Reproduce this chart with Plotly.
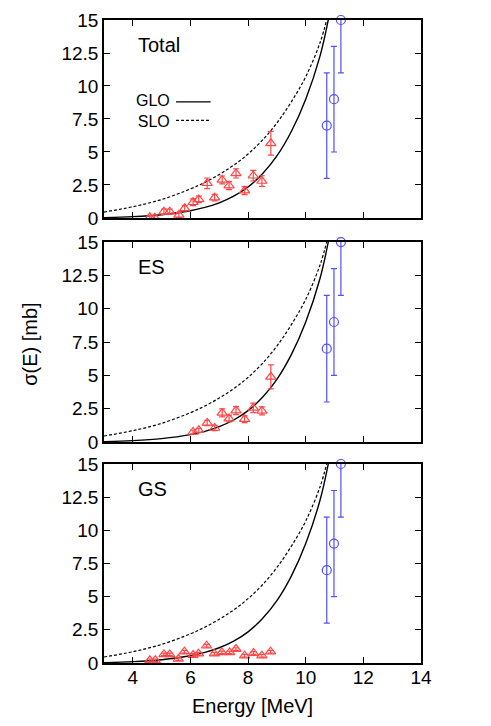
import plotly.graph_objects as go
from plotly.subplots import make_subplots

# model curves (E in MeV, sigma in mb)
curve_e = [3.0, 4.0, 5.0, 6.0, 6.5, 7.0, 7.5, 8.0, 8.5, 9.0, 9.5, 10.0, 10.5, 10.8]
glo = [0.03, 0.1, 0.25, 0.55, 0.8, 1.15, 1.65, 2.35, 3.35, 4.7, 6.55, 9.0, 12.3, 15.2]
slo_e = [3.0, 4.0, 5.0, 6.0, 6.5, 7.0, 7.5, 8.0, 8.5, 9.0, 9.5, 10.0, 10.5, 10.75]
slo = [0.45, 0.85, 1.4, 2.2, 2.7, 3.3, 4.0, 4.85, 5.9, 7.2, 8.8, 10.7, 13.3, 15.2]

# blue data (same in all panels)
blue_e = [10.73, 10.98, 11.22]
blue_s = [7, 9, 15]
blue_err = [4, 4, 4]

# red data
tot_e = [4.59, 4.76, 5.08, 5.28, 5.6, 5.8, 6.09, 6.29, 6.58, 6.84, 7.1, 7.34, 7.58, 7.88, 8.18, 8.48, 8.79]
tot_s = [0.05, 0.02, 0.48, 0.48, 0.23, 0.73, 1.19, 1.41, 2.63, 1.54, 2.88, 2.45, 3.38, 2.07, 3.2, 2.8, 5.66]
tot_err = [0.15, 0.15, 0.2, 0.2, 0.2, 0.2, 0.25, 0.25, 0.4, 0.25, 0.3, 0.3, 0.35, 0.3, 0.4, 0.4, 0.9]

es_e = [6.09, 6.29, 6.58, 6.84, 7.1, 7.34, 7.58, 7.88, 8.18, 8.48, 8.79]
es_s = [0.75, 0.88, 1.43, 1.05, 2.18, 1.76, 2.36, 1.71, 2.56, 2.33, 4.89]
es_err = [0.15, 0.15, 0.2, 0.2, 0.3, 0.25, 0.3, 0.25, 0.35, 0.3, 0.9]

gs_e = [4.59, 4.78, 5.08, 5.28, 5.58, 5.79, 6.09, 6.28, 6.56, 6.83, 7.09, 7.36, 7.58, 7.88, 8.19, 8.48, 8.78]
gs_s = [0.2, 0.2, 0.65, 0.65, 0.3, 0.85, 0.6, 0.7, 1.3, 0.7, 0.8, 0.8, 1.05, 0.55, 0.75, 0.55, 0.85]
gs_err = [0.1] * len(gs_e)

panels = [("Total", tot_e, tot_s, tot_err), ("ES", es_e, es_s, es_err), ("GS", gs_e, gs_s, gs_err)]

red = "rgb(255,70,70)"
blue = "rgb(80,80,255)"
font = "Liberation Sans, Arial, sans-serif"

fig = make_subplots(rows=3, cols=1, shared_xaxes=True)

for i, (name, ex, ey, eerr) in enumerate(panels):
    r = i + 1
    fig.add_trace(go.Scatter(x=slo_e, y=slo, mode="lines",
                             line=dict(color="black", width=1.2, dash="3px,2px", shape="spline"),
                             showlegend=False), row=r, col=1)
    fig.add_trace(go.Scatter(x=curve_e, y=glo, mode="lines", line=dict(color="black", width=1.4, shape="spline"),
                             showlegend=False), row=r, col=1)
    fig.add_trace(go.Scatter(x=ex, y=ey, mode="markers",
                             marker=dict(symbol="triangle-up-open", size=9, color=red, line=dict(width=1.2)),
                             error_y=dict(type="data", array=eerr, color=red, thickness=1.2, width=3),
                             showlegend=False), row=r, col=1)
    fig.add_trace(go.Scatter(x=blue_e, y=blue_s, mode="markers",
                             marker=dict(symbol="circle-open", size=9, color=blue, line=dict(width=1.2)),
                             error_y=dict(type="data", array=blue_err, color=blue, thickness=1.2, width=3),
                             cliponaxis=False, showlegend=False), row=r, col=1)
    fig.add_annotation(x=4.1, y=13.1, text=name, showarrow=False, xanchor="left", yanchor="middle",
                       font=dict(size=20, color="black", family=font), row=r, col=1)

domains = [[0.6921, 1.0], [0.3437, 0.6547], [0.0, 0.3095]]
for i in range(3):
    r = i + 1
    fig.update_yaxes(range=[0, 15], tickvals=[0, 2.5, 5, 7.5, 10, 12.5, 15],
                     ticktext=["0", "2.5", "5", "7.5", "10", "12.5", "15"],
                     domain=domains[i], row=r, col=1)
    fig.update_xaxes(range=[3, 14], dtick=2, tick0=4, row=r, col=1)

fig.update_xaxes(showline=True, linecolor="black", linewidth=1.5, mirror="ticks", ticks="inside",
                 ticklen=6, tickcolor="black", showgrid=False, zeroline=False, ticklabelstandoff=-4,
                 automargin=False, tickfont=dict(size=19, color="black", family=font))
fig.update_yaxes(showline=True, linecolor="black", linewidth=1.5, mirror="ticks", ticks="inside",
                 ticklen=6, tickcolor="black", showgrid=False, zeroline=False,
                 automargin=False, tickfont=dict(size=19, color="black", family=font))

# legend in top panel, gnuplot style: text then sample
fig.add_annotation(x=5.35, y=8.1, text="GLO<br>SLO", showarrow=False, xanchor="right", yanchor="middle",
                   align="right", font=dict(size=16, color="black", family=font), row=1, col=1)
fig.add_shape(type="line", x0=5.5, x1=6.7, y0=8.8, y1=8.8, line=dict(color="black", width=1.2), row=1, col=1)
fig.add_shape(type="line", x0=5.5, x1=6.7, y0=7.4, y1=7.4, line=dict(color="black", width=1.2, dash="3px,2px"),
              row=1, col=1)

fig.add_annotation(xref="paper", yref="paper", x=0.467, y=-0.067, text="Energy [MeV]", showarrow=False,
                   xanchor="center", yanchor="middle", font=dict(size=20, color="black", family=font))
fig.add_annotation(xref="paper", yref="paper", x=-0.233, y=0.495, text="σ(E) [mb]", showarrow=False,
                   textangle=-90, xanchor="center", yanchor="middle", font=dict(size=20, color="black", family=font))

# page body has an 8px margin, so the figure is drawn 8px smaller with shifted margins
fig.update_layout(width=483, height=718, margin=dict(l=96, r=70, t=12, b=63),
                  plot_bgcolor="white", paper_bgcolor="white", showlegend=False)

fig.write_html("out.html")
